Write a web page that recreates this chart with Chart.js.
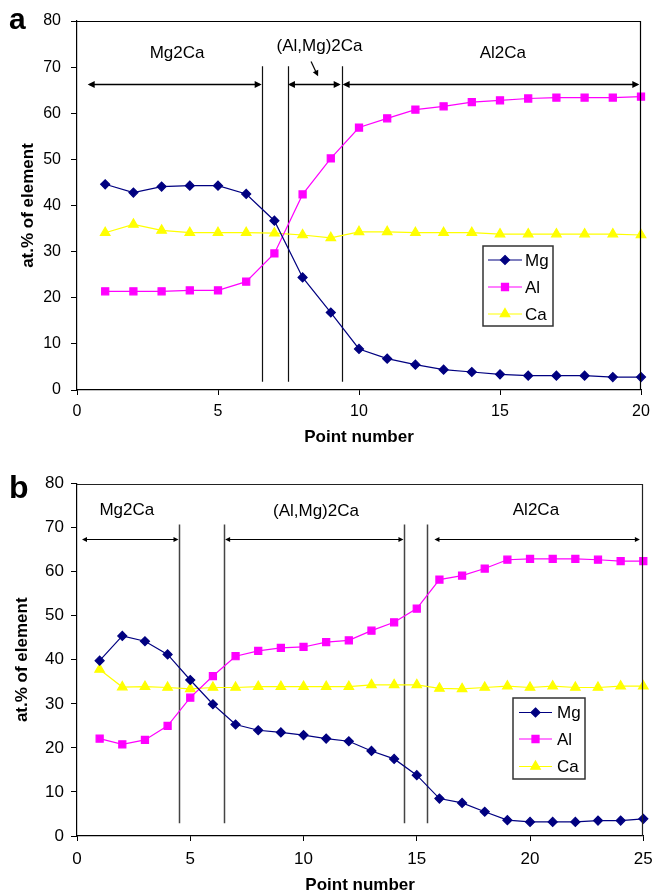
<!DOCTYPE html>
<html><head><meta charset="utf-8">
<script src="https://cdn.jsdelivr.net/npm/chart.js@4.4.0/dist/chart.umd.min.js"></script>
<style>
html,body{margin:0;padding:0;background:#fff;width:652px;height:892px;overflow:hidden}
canvas{position:absolute;left:0}
#ca{top:0}
#cb{top:460px}
</style></head><body>
<canvas id="ca" width="652" height="460"></canvas>
<canvas id="cb" width="652" height="432"></canvas>
<script>
// ---------- data (panel a) ----------
const pointsA = [1,2,3,4,5,6,7,8,9,10,11,12,13,14,15,16,17,18,19,20];
const mgA = [44.6,42.8,44.1,44.3,44.3,42.5,36.7,24.4,16.8,8.9,6.8,5.5,4.4,3.9,3.4,3.1,3.1,3.1,2.8,2.8];
const alA = [21.4,21.4,21.4,21.6,21.6,23.5,29.6,42.4,50.2,56.9,58.9,60.8,61.5,62.4,62.8,63.2,63.4,63.4,63.4,63.6];
const caA = [34.1,35.9,34.6,34.1,34.1,34.1,34.0,33.6,33.0,34.3,34.3,34.1,34.1,34.1,33.8,33.8,33.8,33.8,33.8,33.6];
// ---------- data (panel b) ----------
const pointsB = [1,2,3,4,5,6,7,8,9,10,11,12,13,14,15,16,17,18,19,20,21,22,23,24,25];
const mgB = [39.8,45.4,44.2,41.2,35.4,29.9,25.3,24.0,23.5,22.9,22.1,21.5,19.3,17.5,13.8,8.5,7.5,5.5,3.6,3.2,3.2,3.2,3.5,3.5,3.9];
const alB = [22.1,20.8,21.8,25.0,31.4,36.3,40.8,42.0,42.7,42.9,44.0,44.4,46.6,48.5,51.6,58.2,59.1,60.7,62.7,62.9,62.9,62.9,62.7,62.4,62.4];
const caB = [37.8,33.8,33.9,33.7,33.4,33.7,33.7,33.9,33.9,33.9,33.9,33.9,34.3,34.3,34.3,33.5,33.4,33.7,34.0,33.7,34.0,33.7,33.7,34.0,34.0];

const seriesNames = ['Mg','Al','Ca'];
const phaseNames = ['Mg2Ca','(Al,Mg)2Ca','Al2Ca'];
const yTitle = 'at.% of element';
const xTitle = 'Point number';

// phase boundaries (point-number units) and phase span arrows
const boundariesA = [6.55, 7.48, 9.4];
const boundSpanA = [1.8, 70.2];
const arrowsA = [[0.38,6.55],[7.48,9.35],[9.42,19.94]];
const arrowLevelA = 66.3;
const labelXA = [3.55, 8.6, 15.1];
const labelYA = [73.1, 74.6, 73.1];
const pointerA = [[8.3,71.2],[8.55,68.0]];

const boundariesB = [4.5, 6.5, 14.45, 15.45];
const boundSpanB = [2.9, 70.7];
const arrowsB = [[0.22,4.48],[6.54,14.41],[15.78,24.85]];
const arrowLevelB = 67.3;
const labelXB = [2.2, 10.55, 20.26];
const labelYB = [73.9, 73.6, 73.9];

const colors = ['#000080','#FF00FF','#FFFF00'];
const styles = ['rectRot','rect','triangle'];
const radii = [4.5,5,5.5];
const FONT = "'Liberation Sans', Arial, sans-serif";

function mkDatasets(xs, arrs){
  return arrs.map((arr,i)=>({
    label: seriesNames[i],
    data: xs.map((x,j)=>({x:x,y:arr[j]})),
    borderColor: colors[i], backgroundColor: colors[i],
    pointStyle: styles[i], pointRadius: radii[i], pointHoverRadius: radii[i],
    pointBorderColor: colors[i], pointBackgroundColor: colors[i],
    borderWidth: 1.2, tension: 0, clip: false
  }));
}

function head(ctx, x, y, dx, dy, len, half){
  const l = Math.hypot(dx,dy); const ux=dx/l, uy=dy/l;
  ctx.beginPath();
  ctx.moveTo(x,y);
  ctx.lineTo(x-ux*len-uy*half, y-uy*len+ux*half);
  ctx.lineTo(x-ux*len+uy*half, y-uy*len-ux*half);
  ctx.closePath(); ctx.fill();
}

function marker(ctx, style, x, y, r){
  ctx.beginPath();
  if(style==='rectRot'){ctx.moveTo(x,y-r);ctx.lineTo(x+r,y);ctx.lineTo(x,y+r);ctx.lineTo(x-r,y);}
  else if(style==='rect'){const s=r*Math.SQRT1_2;ctx.rect(x-s,y-s,2*s,2*s);}
  else {ctx.moveTo(x,y-r);ctx.lineTo(x+r*0.866,y+r/2);ctx.lineTo(x-r*0.866,y+r/2);}
  ctx.closePath(); ctx.fill(); ctx.stroke();
}

function phasePlugin(cfg){
  return {
    id:'phases',
    beforeDatasetsDraw(chart){
      const ctx=chart.ctx, xs=chart.scales.x, ys=chart.scales.y;
      ctx.save();
      ctx.strokeStyle=cfg.vColor; ctx.lineWidth=cfg.vWidth;
      cfg.bounds.forEach(b=>{
        const px=Math.round(xs.getPixelForValue(b))+0.5;
        ctx.beginPath(); ctx.moveTo(px, ys.getPixelForValue(cfg.span[0])); ctx.lineTo(px, ys.getPixelForValue(cfg.span[1])); ctx.stroke();
      });
      ctx.strokeStyle='#000'; ctx.fillStyle='#000'; ctx.lineWidth=cfg.aWidth;
      const py=Math.round(ys.getPixelForValue(cfg.level))+0.5;
      cfg.arrows.forEach(a=>{
        const x1=xs.getPixelForValue(a[0]), x2=xs.getPixelForValue(a[1]);
        ctx.beginPath(); ctx.moveTo(x1+2,py); ctx.lineTo(x2-2,py); ctx.stroke();
        head(ctx,x1,py,-1,0,cfg.hl,cfg.hh); head(ctx,x2,py,1,0,cfg.hl,cfg.hh);
      });
      if(cfg.pointer){
        const p0=cfg.pointer[0], p1=cfg.pointer[1];
        const ax=xs.getPixelForValue(p0[0]), ay=ys.getPixelForValue(p0[1]);
        const bx=xs.getPixelForValue(p1[0]), by=ys.getPixelForValue(p1[1]);
        ctx.lineWidth=1.2;
        ctx.beginPath(); ctx.moveTo(ax,ay); ctx.lineTo(bx-(bx-ax)*0.2,by-(by-ay)*0.2); ctx.stroke();
        head(ctx,bx,by,bx-ax,by-ay,6,3);
      }
      ctx.restore();
    },
    afterDraw(chart){
      const ctx=chart.ctx, xs=chart.scales.x, ys=chart.scales.y, a=chart.chartArea;
      ctx.save();
      // plot frame (top and right; left/bottom are the axes)
      ctx.strokeStyle=cfg.frame; ctx.lineWidth=1.2;
      const t=Math.round(a.top)+0.5, r=Math.round(a.right)-0.5;
      ctx.beginPath(); ctx.moveTo(a.left,t); ctx.lineTo(r,t); ctx.lineTo(r,a.bottom); ctx.stroke();
      // phase labels
      ctx.fillStyle='#000'; ctx.font=cfg.labelFont; ctx.textAlign='center'; ctx.textBaseline='middle';
      phaseNames.forEach((n,i)=>ctx.fillText(n, xs.getPixelForValue(cfg.lx[i]), ys.getPixelForValue(cfg.ly[i])));
      // panel letter
      ctx.font=cfg.letterFont; ctx.textAlign='left'; ctx.textBaseline='alphabetic';
      ctx.fillText(cfg.letter, cfg.letterX, cfg.letterY);
      // legend
      const L=cfg.legend;
      ctx.fillStyle='#fff'; ctx.fillRect(L.x,L.y,L.w,L.h);
      ctx.strokeStyle='#333'; ctx.lineWidth=1.5; ctx.strokeRect(L.x,L.y,L.w,L.h);
      ctx.font=cfg.legendFont; ctx.textBaseline='middle';
      seriesNames.forEach((n,i)=>{
        const yy=L.y+L.rows[i];
        ctx.strokeStyle=colors[i]; ctx.fillStyle=colors[i]; ctx.lineWidth=1.2;
        ctx.beginPath(); ctx.moveTo(L.l0,yy); ctx.lineTo(L.l1,yy); ctx.stroke();
        marker(ctx, styles[i], (L.l0+L.l1)/2, yy, radii[i]);
        ctx.fillStyle='#000'; ctx.fillText(n, L.tx, yy+1);
      });
      ctx.restore();
    }
  };
}

function axisOpts(max, tickFont, tickPad, titleFont, titlePad, size, isX){
  return {
    type:'linear', min:0, max:max,
    ticks:{stepSize: isX?5:10, color:'#000', font:{family:FONT,size:tickFont}, padding:tickPad, maxRotation:0, autoSkip:false},
    grid:{drawOnChartArea:false, drawTicks:true, tickLength: isX?5:6, color:'#000', lineWidth:1},
    border:{display:true, color:'#000', width:1.2},
    title:{display:true, text: isX?xTitle:yTitle, color:'#000', font:{family:FONT,size:titleFont,weight:'bold',lineHeight:1}, padding:titlePad},
    afterFit(s){
      if(isX){ s.height=size; s.paddingLeft=0; s.paddingRight=0; }
      else { s.width=size; s.paddingTop=0; s.paddingBottom=0; }
    }
  };
}

function makeChart(id, xs, arrs, xmax, o, cfg){
  new Chart(document.getElementById(id),{
    type:'line',
    data:{datasets: mkDatasets(xs, arrs)},
    options:{
      responsive:false, animation:false, devicePixelRatio:1,
      layout:{padding:o.pad},
      plugins:{legend:{display:false}, tooltip:{enabled:false}},
      scales:{
        x: axisOpts(xmax, o.tickFont, o.xTickPad, 17, {top:0,bottom:o.xTitlePad}, o.xH, true),
        y: axisOpts(80, o.tickFont, o.yTickPad, 17, {top:o.yTitlePad,bottom:0}, 77, false)
      }
    },
    plugins:[phasePlugin(cfg)]
  });
}

makeChart('ca', pointsA, [mgA,alA,caA], 20,
  {pad:{left:0,right:11,top:21,bottom:0}, tickFont:16, xTickPad:7, yTickPad:10, xTitlePad:14, yTitlePad:19.5, xH:70},
  {bounds:boundariesA, span:boundSpanA, arrows:arrowsA, level:arrowLevelA, lx:labelXA, ly:labelYA, pointer:pointerA,
   vColor:'#111', vWidth:1.2, aWidth:1.6, hl:7, hh:3.5, frame:'#000',
   labelFont:"17px "+FONT, letterFont:"bold 30px "+FONT, letter:'a', letterX:9, letterY:29,
   legendFont:"17px "+FONT,
   legend:{x:483,y:246,w:70,h:80,rows:[14,41,68],l0:488,l1:522,tx:525}});

makeChart('cb', pointsB, [mgB,alB,caB], 25,
  {pad:{left:0,right:8.7,top:23.5,bottom:0}, tickFont:17, xTickPad:8, yTickPad:7, xTitlePad:-2, yTitlePad:14, xH:56},
  {bounds:boundariesB, span:boundSpanB, arrows:arrowsB, level:arrowLevelB, lx:labelXB, ly:labelYB, pointer:null,
   vColor:'#444', vWidth:1.5, aWidth:1, hl:5, hh:2.5, frame:'#222',
   labelFont:"17px "+FONT, letterFont:"bold 32px "+FONT, letter:'b', letterX:9, letterY:38,
   legendFont:"17px "+FONT,
   legend:{x:513,y:238,w:72,h:81,rows:[14.5,41,68.5],l0:519,l1:552,tx:557}});
</script>
</body></html>
